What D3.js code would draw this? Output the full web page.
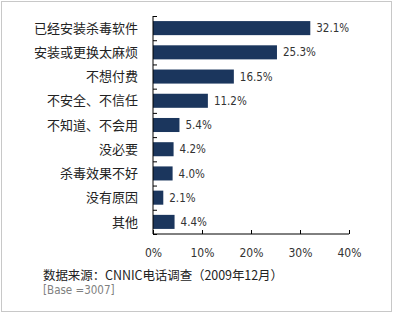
<!DOCTYPE html>
<html>
<head>
<meta charset="utf-8">
<script src="https://cdn.jsdelivr.net/npm/d3@7"></script>
<style>
html,body{margin:0;padding:0;background:#fff;}
svg{display:block;}
</style>
</head>
<body>
<svg id="chart" width="394" height="314"></svg>
<script>
const categories = ["已经安装杀毒软件","安装或更换太麻烦","不想付费","不安全、不信任","不知道、不会用","没必要","杀毒效果不好","没有原因","其他"];
const values = [32.1, 25.3, 16.5, 11.2, 5.4, 4.2, 4.0, 2.1, 4.4];
const xTicks = [0, 10, 20, 30, 40];
const sourceText = "数据来源：CNNIC电话调查（2009年12月）";
const baseText = "[Base =3007]";

(function(){
const svg = d3.select("#chart");
const W = 394, H = 314;
const pl = 153, pr = 349, pt = 16, pb = 234;

svg.append("rect").attr("x",0).attr("y",0).attr("width",W).attr("height",H).attr("fill","#fff");

// frame
svg.append("rect").attr("x",1.5).attr("y",1.5).attr("width",390).attr("height",310)
  .attr("fill","none").attr("stroke","#c8c8c8").attr("stroke-width",1);

const x = d3.scaleLinear().domain([0,40]).range([pl,pr]);
const y = d3.scaleBand().domain(categories).range([pt,pb]).paddingInner(0.42).paddingOuter(0.21);

// bars
svg.append("g").selectAll("rect").data(values).join("rect")
  .attr("x", x(0))
  .attr("y", (d,i)=>y(categories[i]))
  .attr("width", d=>x(d)-x(0))
  .attr("height", y.bandwidth())
  .attr("fill","#1b365d");

// value labels
svg.append("g").selectAll("text").data(values).join("text")
  .attr("x", d=>x(d)+6)
  .attr("y", (d,i)=>y(categories[i])+y.bandwidth()/2)
  .attr("dy","0.36em")
  .attr("font-family","DejaVu Sans Condensed, DejaVu Sans")
  .attr("font-size",11.5)
  .attr("fill","#333")
  .text(d=>d.toFixed(1)+"%");

// y axis
const yAxis = d3.axisLeft(d3.scaleLinear().domain([0,categories.length]).range([pt,pb]))
  .tickValues(d3.range(0,categories.length+1)).tickSize(-4).tickFormat("");
const ya = svg.append("g").attr("transform",`translate(${pl},0)`).call(yAxis);
ya.select(".domain").attr("stroke","#000").attr("d",`M0,${pt}V${pb}`);
ya.selectAll(".tick line").attr("stroke","#000");

// category labels
svg.append("g").selectAll("text").data(categories).join("text")
  .attr("x", pl-15)
  .attr("y", d=>y(d)+y.bandwidth()/2)
  .attr("dy","0.36em")
  .attr("text-anchor","end")
  .attr("font-family","Noto Sans CJK SC")
  .attr("font-size",13)
  .attr("fill","#222")
  .text(d=>d);

// x axis
const xAxis = d3.axisBottom(x).tickValues(xTicks).tickSize(-4).tickPadding(14).tickFormat(d=>d+"%");
const xa = svg.append("g").attr("transform",`translate(0,${pb})`).call(xAxis);
xa.select(".domain").attr("stroke","#000").attr("d",`M${pl},0H${pr}`);
xa.selectAll(".tick line").attr("stroke","#000");
xa.selectAll(".tick text").attr("font-family","DejaVu Sans Condensed, DejaVu Sans").attr("font-size",12).attr("fill","#333");

// footer
svg.append("text").attr("x",43).attr("y",280)
  .attr("font-family","Noto Sans CJK SC").attr("font-size",12.5).attr("fill","#222")
  .attr("textLength",240).attr("lengthAdjust","spacing")
  .text(sourceText);
svg.append("text").attr("x",43).attr("y",294)
  .attr("font-family","DejaVu Sans Condensed, DejaVu Sans").attr("font-size",11.5).attr("fill","#808080")
  .text(baseText);
})();
</script>
</body>
</html>
